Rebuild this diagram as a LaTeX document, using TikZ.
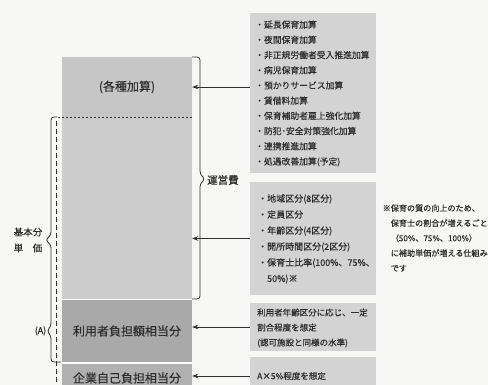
\documentclass[tikz,border=0pt]{standalone}
\usepackage{fontspec}
\setmainfont{Noto Sans CJK JP}[FakeBold=0.45]
\usetikzlibrary{arrows.meta}
\definecolor{bgcol}{HTML}{F7F7F6}
\definecolor{barA}{HTML}{C6C6C6}
\definecolor{barB}{HTML}{CCCCCC}
\definecolor{barC}{HTML}{A9A9A9}
\definecolor{barD}{HTML}{B1B1B1}
\definecolor{boxcol}{HTML}{D3D3D3}
\definecolor{ink}{HTML}{2E2E2E}
\tikzset{
  barbox/.style={rectangle, draw=none, minimum width=130pt, inner sep=0pt, font=\fontsize{12}{14}\selectfont, text=ink},
  infobox/.style={rectangle, fill=boxcol, draw=none, minimum width=126pt, inner sep=0pt},
  infotext/.style={anchor=west, align=left, inner sep=0pt, text=ink},
  arr/.style={draw=ink, line width=0.8pt, -{Stealth[length=6pt,width=4.5pt]}},
  brc/.style={draw=ink, line width=0.8pt, rounded corners=3pt},
  dashh/.style={draw=ink, line width=0.6pt, dash pattern=on 2pt off 2pt},
  dashv/.style={draw=ink, line width=0.7pt, dash pattern=on 5pt off 3pt},
  lbl/.style={inner sep=0pt, text=ink, align=center}
}
\begin{document}
\begin{tikzpicture}[x=1pt,y=-1pt]
\useasboundingbox (0,0) rectangle (488,385);
\fill[bgcol] (0,0) rectangle (488,385);
\clip (0,0) rectangle (488,385);

% main bar
\node[barbox, fill=barA, minimum height=60pt] (kasan) at (127,87) {(各種加算)};
\node[barbox, fill=barB, minimum height=182pt] (kihon) at (127,208) {};
\node[barbox, fill=barC, minimum height=62pt] (riyou) at (127,331) {利用者負担額相当分};
\node[barbox, fill=barD, minimum height=28pt] (kigyo) at (127,378) {企業自己負担相当分};
\draw[white, line width=1.2pt] (62,299.5) -- (192,299.5);
\draw[white, line width=1.6pt] (62,363) -- (192,363);

% dashed lines
\draw[dashh] (58,117) -- (192,117);
\draw[dashv] (56,121) -- (56,385);

% right info boxes
\node[infobox, minimum height=160pt] (b1) at (313,93) {};
\node[infobox, minimum height=113pt] (b2) at (313,238.5) {};
\node[infobox, minimum height=48pt] (b3) at (313,327) {};
\node[infobox, minimum height=34pt] (b4) at (313,374) {};

\node[infotext, font=\fontsize{8.8}{15.2}\selectfont] (t1) at (255,93.5) {・延長保育加算\\・夜間保育加算\\・非正規労働者受入推進加算\\・病児保育加算\\・預かりサービス加算\\・賃借料加算\\・保育補助者雇上強化加算\\・防犯･安全対策強化加算\\・連携推進加算\\・処遇改善加算(予定)};
\node[infotext, font=\fontsize{9}{16}\selectfont] (t2) at (258,239) {・地域区分(8区分)\\・定員区分\\・年齢区分(4区分)\\・開所時間区分(2区分)\\・保育士比率(100\%、75\%、\\\hspace*{1em}50\%)※};
\node[infotext, font=\fontsize{8.5}{15}\selectfont] (t3) at (257,328) {利用者年齢区分に応じ、一定\\割合程度を想定\\(認可施設と同様の水準)};
\node[infotext, font=\fontsize{8.5}{15}\selectfont] (t4) at (257,376) {A×5\%程度を想定};

% note
\node[infotext, font=\fontsize{8.1}{15}\selectfont] (note) at (382.5,238) {※保育の質の向上のため、\\\hspace*{1em}保育士の割合が増えるごと\\\hspace*{1em}（50\%、75\%、100\%）\\\hspace*{1em}に補助単価が増える仕組み\\\hspace*{1em}です};

% arrows
\draw[arr] (b1.west |- kasan.east) -- (kasan.east);
\draw[arr] (b2.west) -- (b2.west -| kihon.east);
\draw[arr] (b3.west) -- (b3.west -| riyou.east);
\draw[arr] (t4.west -| b4.west) -- (t4.west -| kigyo.east);

% right brace
\draw[brc] (192,57) -- (200,57) -- (200,174) -- (205,179) -- (200,184) -- (200,299) -- (192,299);
\node[lbl, anchor=west, font=\fontsize{10.5}{12}\selectfont] (unei) at (207,180) {運営費};

% left brace
\draw[brc] (57,117) -- (51,117) -- (51,235) -- (45.5,240) -- (51,245) -- (51,326) -- (47,331) -- (51,336) -- (51,362) -- (61,362);
\node[lbl, font=\fontsize{9.5}{16}\selectfont] (kihonlbl) at (28,240) {基本分\\単　価};
\node[lbl, font=\fontsize{9}{11}\selectfont] (alabel) at (40.5,331) {(A)};
\end{tikzpicture}
\end{document}
